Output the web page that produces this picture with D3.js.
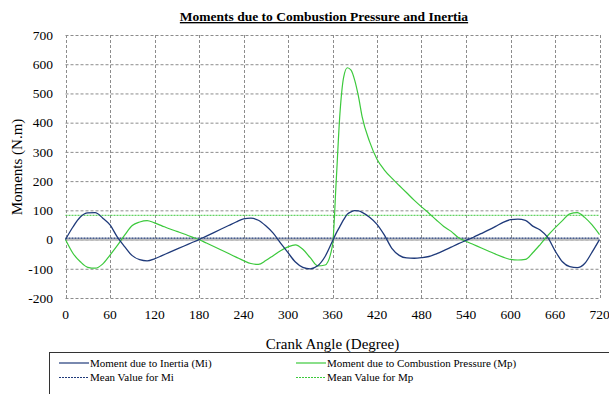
<!DOCTYPE html>
<html>
<head>
<meta charset="utf-8">
<script src="https://cdn.jsdelivr.net/npm/d3@7"></script>
<style>
  body { margin: 0; background: #fff; }
</style>
</head>
<body>
<div id="main"></div>
<script>
// crank angle (degree)
var angles = [0,10,20,30,40,50,60,70,80,90,100,110,120,130,140,150,160,170,180,
  190,200,210,220,230,240,250,260,270,280,290,300,310,320,330,340,350,360,
  365,370,375,380,385,390,395,400,410,420,430,440,450,460,470,480,490,500,
  510,520,530,540,550,560,570,580,590,600,610,620,630,640,650,660,670,680,
  690,700,710,720];

// moment due to inertia (Mi)
var inertia = [0,43,77,91,92,74,50,8,-25,-55,-69,-73,-66,-55,-44,-33,-22,-11,0,
  12,24,36,48,60,71,73,66,47,22,-12,-45,-77,-95,-100,-90,-58,-5,
  22,45,68,87,95,99,98,93,76,52,15,-30,-54,-63,-64,-62,-58,-49,
  -38,-26,-14,-3,8,20,32,45,59,68,70,66,46,33,8,-38,-76,-93,
  -96,-82,-43,0];

// moment due to combustion pressure (Mp)
var combustion = [0,-47,-76,-95,-98,-84,-53,-20,16,48,60,65,57,47,37,28,19,9,0,
  -12,-24,-36,-48,-60,-72,-82,-85,-72,-55,-38,-25,-18,-33,-62,-90,-87,-20,
  200,430,555,588,580,545,490,420,335,275,238,210,185,160,135,112,90,67,
  45,28,6,-6,-17,-28,-39,-50,-60,-68,-70,-68,-45,-17,13,40,65,88,
  92,76,50,17];

var meanMi = 5, meanMp = 83;

var xTicks = [0,60,120,180,240,300,360,420,480,540,600,660,720];
var yTicks = [-200,-100,0,100,200,300,400,500,600,700];

var legendItems = [
  {label: 'Moment due to Inertia (Mi)', color: '#1f3a7a', dash: null},
  {label: 'Moment due to Combustion Pressure (Mp)', color: '#3cc93c', dash: null},
  {label: 'Mean Value for Mi', color: '#1f3a7a', dash: '2,1'},
  {label: 'Mean Value for Mp', color: '#3cc93c', dash: '2,1'}
];

var W = 609, H = 394;
var x = d3.scaleLinear().domain([0, 720]).range([65.5, 599.5]);
var y = d3.scaleLinear().domain([-200, 700]).range([298, 35]);

var svg = d3.select('#main').append('svg')
    .attr('width', W).attr('height', H)
    .attr('font-family', '"Liberation Serif", "Times New Roman", serif');

// grid (dashed, includes plot border)
svg.append('g').selectAll('line').data(yTicks).enter().append('line')
    .attr('x1', x(0)).attr('x2', x(720))
    .attr('y1', function(d){ return y(d) + 0.5; }).attr('y2', function(d){ return y(d) + 0.5; })
    .attr('stroke', '#8c8c8c').attr('stroke-dasharray', '3,2');
svg.append('g').selectAll('line').data(xTicks).enter().append('line')
    .attr('y1', y(700)).attr('y2', y(-200))
    .attr('x1', function(d){ return Math.round(x(d)) + 0.5; }).attr('x2', function(d){ return Math.round(x(d)) + 0.5; })
    .attr('stroke', '#8c8c8c').attr('stroke-dasharray', '3,2');

// zero axis line
svg.append('line')
    .attr('x1', x(0)).attr('x2', x(720)).attr('y1', y(0)).attr('y2', y(0))
    .attr('stroke', '#bdbdbd').attr('stroke-width', 2.5);

// tick labels
svg.append('g').selectAll('text').data(yTicks).enter().append('text')
    .attr('x', 53).attr('y', function(d){ return y(d); })
    .attr('dy', '0.35em').attr('text-anchor', 'end')
    .attr('font-size', 13.5)
    .text(function(d){ return d; });
svg.append('g').selectAll('text').data(xTicks).enter().append('text')
    .attr('x', function(d){ return x(d); }).attr('y', 319)
    .attr('text-anchor', 'middle')
    .attr('font-size', 13.5)
    .text(function(d){ return d; });

// mean lines
svg.append('line')
    .attr('x1', x(0)).attr('x2', x(720)).attr('y1', y(meanMp)).attr('y2', y(meanMp))
    .attr('stroke', '#3cc93c').attr('stroke-width', 1).attr('stroke-dasharray', '2,1');
svg.append('line')
    .attr('x1', x(0)).attr('x2', x(720)).attr('y1', y(meanMi)).attr('y2', y(meanMi))
    .attr('stroke', '#1f3a7a').attr('stroke-width', 1.2).attr('stroke-dasharray', '2,1');

// series
function line(values) {
  return d3.line()
    .x(function(d, i){ return x(angles[i]); })
    .y(function(d){ return y(d); })
    .curve(d3.curveMonotoneX)(values);
}
svg.append('path').attr('d', line(combustion))
    .attr('fill', 'none').attr('stroke', '#3cc93c').attr('stroke-width', 1.2);
svg.append('path').attr('d', line(inertia))
    .attr('fill', 'none').attr('stroke', '#1f3a7a').attr('stroke-width', 1.3);

// titles
svg.append('text')
    .attr('x', 324).attr('y', 21).attr('text-anchor', 'middle')
    .attr('font-size', 13.5).attr('font-weight', 'bold')
    .attr('text-decoration', 'underline')
    .text('Moments due to Combustion Pressure and Inertia');
svg.append('text')
    .attr('x', 332.5).attr('y', 349).attr('text-anchor', 'middle')
    .attr('font-size', 15)
    .text('Crank Angle (Degree)');
svg.append('text')
    .attr('transform', 'translate(22,167) rotate(-90)')
    .attr('text-anchor', 'middle')
    .attr('font-size', 15)
    .text('Moments (N.m)');

// legend
svg.append('rect')
    .attr('x', 49.5).attr('y', 352.5).attr('width', 600).attr('height', 60)
    .attr('fill', 'none').attr('stroke', '#333').attr('stroke-width', 1);
var lg = svg.append('g').selectAll('g').data(legendItems).enter().append('g')
    .attr('transform', function(d, i){
      return 'translate(' + (i % 2 === 0 ? 59 : 296) + ',' + (i < 2 ? 363 : 377.5) + ')';
    });
lg.append('line')
    .attr('x1', 0).attr('x2', 30).attr('y1', 0).attr('y2', 0)
    .attr('stroke', function(d){ return d.color; })
    .attr('stroke-width', 1.2)
    .attr('stroke-dasharray', function(d){ return d.dash; });
lg.append('text')
    .attr('x', 31).attr('y', 0).attr('dy', '0.35em')
    .attr('font-size', 11)
    .text(function(d){ return d.label; });
</script>
</body>
</html>
